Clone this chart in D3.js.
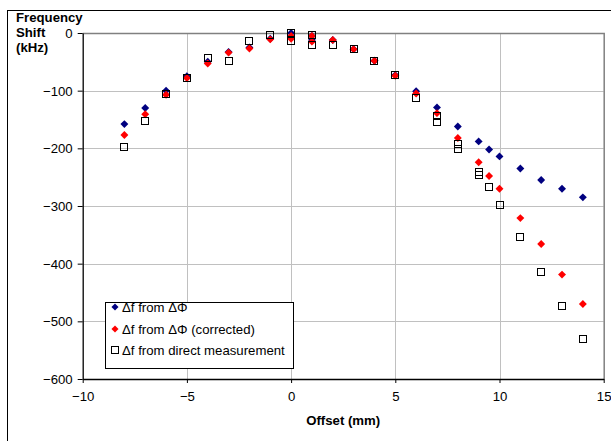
<!DOCTYPE html>
<html><head><meta charset="utf-8">
<script src="https://cdn.jsdelivr.net/npm/d3@7"></script>
<style>
html,body{margin:0;padding:0;background:#fff;}
svg{display:block;font-family:"Liberation Sans",Arial,sans-serif;}
</style></head>
<body>
<svg id="chart" width="611" height="441"></svg>
<script>
// ---- data ----
const xTicks = [-10, -5, 0, 5, 10, 15];
const yTicks = [0, -100, -200, -300, -400, -500, -600];

const offsetsPhase = [-8,-7,-6,-5,-4,-3,-2,-1,0,0,1,1,2,3,4,5,6,7,8,9,9.5,10,11,12,13,14];
const shiftPhase = [-158,-130,-100,-75,-50,-33,-25,-10,0,-8,-5,-12,-12,-28,-48,-73,-101,-129,-162,-188,-202,-214,-235,-255,-270,-285];

const offsetsCorrected = [-8,-7,-6,-5,-4,-3,-2,-1,0,0,1,1,2,3,4,5,6,7,8,9,9.5,10,11,12,13,14];
const shiftCorrected = [-177,-141,-107,-78,-53,-34,-27,-11,-5,-10,-5,-15,-12,-28,-48,-74,-105,-139,-182,-224,-248,-270,-321,-366,-419,-470];

const offsetsDirect = [-8,-7,-6,-5,-4,-3,-2,-1,0,0,1,1,2,3,4,5,6,7,7,8,8,9,9,9.5,10,11,12,13,14];
const shiftDirect = [-198,-153,-105,-78,-44,-48,-14,-4,0,-14,-3,-20,-20,-28,-48,-73,-113,-144,-155,-192,-201,-241,-247,-267,-299,-354,-414,-473,-530];

const seriesNames = ["\u0394f from \u0394\u03A6", "\u0394f from \u0394\u03A6 (corrected)", "\u0394f from direct measurement"];
const xTitle = "Offset (mm)";
const yTitleLines = ["Frequency", "Shift", "(kHz)"];

// ---- layout ----
const FS = 13.2;
const svg = d3.select("#chart");
const L = 82.7, R = 603.7, T = 33, B = 379;
const x = d3.scaleLinear().domain([-10, 15]).range([L, R]);
const y = d3.scaleLinear().domain([-600, 0]).range([B, T]);

// outer chart border
svg.append("rect").attr("x", 7.5).attr("y", 10.5).attr("width", 700).attr("height", 500)
  .attr("fill", "none").attr("stroke", "#000").attr("stroke-width", 1);

// gridlines
svg.append("g").selectAll("line").data(xTicks.slice(1, -1)).join("line")
  .attr("x1", d => Math.round(x(d)) + 0.5).attr("x2", d => Math.round(x(d)) + 0.5)
  .attr("y1", T).attr("y2", B).attr("stroke", "#c0c0c0");
svg.append("g").selectAll("line").data(yTicks.slice(1, -1)).join("line")
  .attr("y1", d => Math.round(y(d)) + 0.5).attr("y2", d => Math.round(y(d)) + 0.5)
  .attr("x1", L).attr("x2", R).attr("stroke", "#c0c0c0");

// plot border top/right (gray)
svg.append("path").attr("d", `M${L},${T + 0.5}H${R + 0.5}V${B}`)
  .attr("fill", "none").attr("stroke", "#808080").attr("stroke-width", 1.5);

// axes
const xAxis = d3.axisBottom(x).tickValues(xTicks).tickSize(4).tickSizeOuter(0);
const gx = svg.append("g").attr("transform", `translate(0,${B})`).call(xAxis);
const yAxis = d3.axisLeft(y).tickValues(yTicks).tickSize(5).tickSizeOuter(0);
const gy = svg.append("g").attr("transform", `translate(${L},0)`).call(yAxis);
[gx, gy].forEach(g => {
  g.select(".domain").attr("stroke", "#000").attr("stroke-width", 1.3);
  g.selectAll(".tick line").attr("stroke", "#000");
  g.selectAll("text").attr("font-size", FS).attr("font-family", "Liberation Sans, Arial, sans-serif").attr("fill", "#000");
});
gx.selectAll("text").attr("dy", "0").attr("y", 21.5);
gy.selectAll("text").attr("x", -10).attr("dy", "0.35em");

// axis titles
svg.append("text").attr("x", (L + R) / 2).attr("y", 425).attr("text-anchor", "middle")
  .attr("font-weight", "bold").attr("font-size", FS).text(xTitle);
svg.append("g").selectAll("text").data(yTitleLines).join("text")
  .attr("x", 16).attr("y", (d, i) => 21.5 + i * 15)
  .attr("font-weight", "bold").attr("font-size", FS).text(d => d);

// markers
const diamond = d3.symbol().type(d3.symbolDiamond2).size(40);
function drawDiamonds(xs, vs, color) {
  svg.append("g").selectAll("path").data(xs).join("path")
    .attr("d", diamond)
    .attr("transform", (d, i) => `translate(${x(d)},${y(vs[i])})`)
    .attr("fill", color);
}
drawDiamonds(offsetsPhase, shiftPhase, "#000080");
drawDiamonds(offsetsCorrected, shiftCorrected, "#ff0000");
svg.append("g").selectAll("rect").data(offsetsDirect).join("rect")
  .attr("x", d => Math.round(x(d)) - 3.5).attr("y", (d, i) => Math.round(y(shiftDirect[i])) - 3.5)
  .attr("width", 7).attr("height", 7).attr("fill", "none").attr("stroke", "#000").attr("stroke-width", 1);

// legend
const lg = svg.append("g");
lg.append("rect").attr("x", 105.5).attr("y", 302.5).attr("width", 188).attr("height", 66)
  .attr("fill", "#fff").attr("stroke", "#000");
const rowsY = [307, 329, 350];
const colors = ["#000080", "#ff0000", null];
seriesNames.forEach((name, i) => {
  if (colors[i]) {
    lg.append("path").attr("d", d3.symbol().type(d3.symbolDiamond2).size(32))
      .attr("transform", `translate(115,${rowsY[i]})`).attr("fill", colors[i]);
  } else {
    lg.append("rect").attr("x", 111.5).attr("y", rowsY[i] - 3.5).attr("width", 7).attr("height", 7)
      .attr("fill", "none").attr("stroke", "#000");
  }
  lg.append("text").attr("x", 122).attr("y", rowsY[i]).attr("dy", "0.35em")
    .attr("font-size", FS).text(name);
});
</script>
</body></html>
